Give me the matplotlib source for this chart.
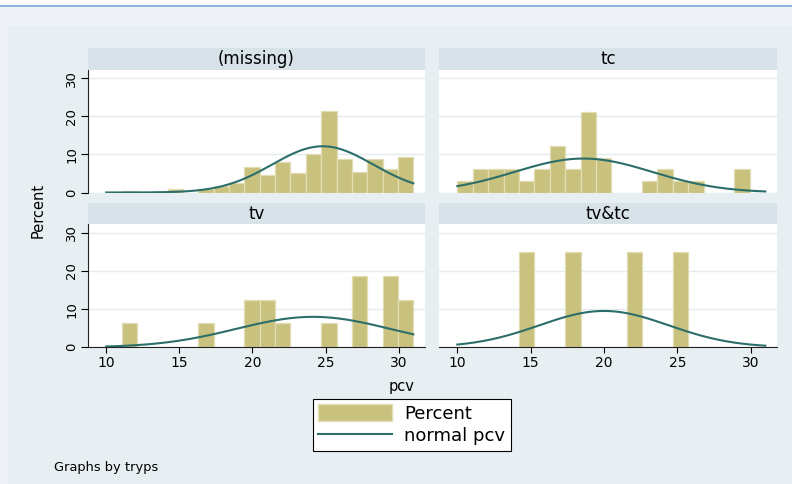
import matplotlib.pyplot as plt
import numpy as np
from matplotlib.patches import Rectangle, Patch
from matplotlib.lines import Line2D

# histogram of pcv by tryps, 20 bins of width 1.05 starting at 10
bin_start = 10
bin_width = 1.05
n_bins = 20

panels = ['(missing)', 'tc', 'tv', 'tv&tc']
pct_missing = [0, 0.4, 0, 0, 1.0, 0, 1.0, 1.8, 2.4, 6.6, 4.6, 8.1, 5.0, 10.0, 21.5, 8.7, 5.3, 8.7, 6.1, 9.4]
pct_tc = [3.0, 6.1, 6.1, 6.1, 3.0, 6.1, 12.1, 6.1, 21.2, 9.1, 0, 0, 3.0, 6.1, 3.0, 3.0, 0, 0, 6.1, 0]
pct_tv = [0, 6.25, 0, 0, 0, 0, 6.25, 0, 0, 12.5, 12.5, 6.25, 0, 0, 6.25, 0, 18.75, 0, 18.75, 12.5]
pct_tvtc = [0, 0, 0, 0, 25, 0, 0, 25, 0, 0, 0, 25, 0, 0, 25, 0, 0, 0, 0, 0]
# normal overlay: mean and sd of pcv in each group
means = [24.8, 18.6, 24.15, 20.0]
sds = [3.45, 4.7, 5.25, 4.4]
xticks = [10, 15, 20, 25, 30]
yticks = [0, 10, 20, 30]

W, H = 792, 484
bar_col = '#c9c17e'
bar_edge = '#e2ddb2'
line_col = '#2b6e6a'
head_col = '#d8e3e9'
bg_col = '#e8eff2'
grid_col = '#e3ebef'

fig = plt.figure(figsize=(W / 100, H / 100), dpi=100)
fig.patch.set_facecolor('#eef2f7')
fig.patches.append(Rectangle((0, 1 - 5.5 / H), 1, 5.5 / H, transform=fig.transFigure,
                             color='white', zorder=-10))
fig.lines.append(Line2D([0, 1], [1 - 6 / H, 1 - 6 / H], transform=fig.transFigure,
                        color='#7aa6da', lw=1.2, zorder=-9))
fig.patches.append(Rectangle((8 / W, 0), 1, 1 - 26 / H, transform=fig.transFigure,
                             color=bg_col, zorder=-10))


def rect(x0, y0, x1, y1):
    return [x0 / W, 1 - y1 / H, (x1 - x0) / W, (y1 - y0) / H]


xs = [(88, 425), (439, 777)]
ys = [(48.3, 69.5, 192.5), (203.3, 224, 347.3)]
data = [pct_missing, pct_tc, pct_tv, pct_tvtc]
edges = bin_start + bin_width * np.arange(n_bins)
xc = np.linspace(10, 31, 300)

for i in range(4):
    r, c = i // 2, i % 2
    x0, x1 = xs[c]
    h0, p0, p1 = ys[r]
    hax = fig.add_axes(rect(x0, h0, x1, p0))
    hax.set_facecolor(head_col)
    hax.set_xticks([])
    hax.set_yticks([])
    for s in hax.spines.values():
        s.set_visible(False)
    hax.text(0.5, 0.5, panels[i], ha='center', va='center', fontsize=12)

    ax = fig.add_axes(rect(x0, p0, x1, p1))
    vals = np.array(data[i])
    m = vals > 0
    ax.bar(edges[m], vals[m], width=bin_width, align='edge', color=bar_col,
           edgecolor=bar_edge, linewidth=0.9, zorder=2)
    yc = 100 * bin_width * np.exp(-(xc - means[i]) ** 2 / (2 * sds[i] ** 2)) / (sds[i] * np.sqrt(2 * np.pi))
    ax.plot(xc, yc, color=line_col, lw=1.5, zorder=3)
    ax.set_xlim(8.75, 31.8)
    ax.set_ylim(0, 32.3)
    ax.set_yticks(yticks)
    ax.set_xticks(xticks)
    ax.grid(axis='y', color=grid_col, lw=1)
    ax.set_axisbelow(True)
    for s in ['top', 'right']:
        ax.spines[s].set_visible(False)
    if c == 0:
        ax.spines['left'].set_color('#222222')
        ax.tick_params(axis='y', length=5, pad=2, labelsize=9.5, labelrotation=90)
        for t in ax.get_yticklabels():
            t.set_va('center')
    else:
        ax.spines['left'].set_visible(False)
        ax.tick_params(axis='y', length=0, labelleft=False)
    if r == 1:
        ax.spines['bottom'].set_color('#222222')
        ax.tick_params(axis='x', length=4.5, pad=2, labelsize=10)
    else:
        ax.spines['bottom'].set_visible(False)
        ax.tick_params(axis='x', length=0, labelbottom=False)

fig.text(38 / W, 1 - 210 / H, 'Percent', rotation=90, ha='center', va='center', fontsize=10.5)
fig.text(402 / W, 1 - 386 / H, 'pcv', ha='center', va='center', fontsize=10.5)
fig.text(54 / W, 1 - 467 / H, 'Graphs by tryps', ha='left', va='center', fontsize=9.4)

handles = [Patch(facecolor=bar_col, edgecolor=bar_edge), Line2D([], [], color=line_col, lw=1.5)]
leg = fig.legend(handles, ['Percent', 'normal pcv'], loc='upper left',
                 bbox_to_anchor=(313 / W, 1 - 399 / H), fontsize=13, frameon=True,
                 fancybox=False, edgecolor='black', framealpha=1, borderpad=0.3,
                 labelspacing=0.25, handlelength=4.1, handleheight=1.0, handletextpad=0.65,
                 borderaxespad=0)
leg.get_frame().set_linewidth(0.8)

fig.savefig('out.png', dpi=100, facecolor=fig.get_facecolor())
